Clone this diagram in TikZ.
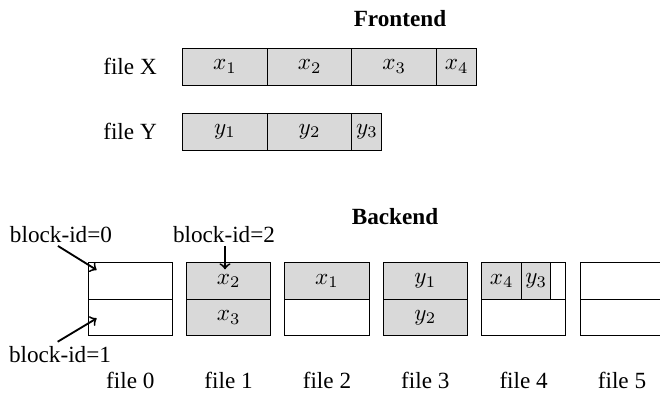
\documentclass[tikz,border=0pt]{standalone}
\usepackage{fontspec}
\setmainfont{Liberation Serif}
\usetikzlibrary{positioning}

\begin{document}
\begin{tikzpicture}[
    blk/.style={draw, fill=gray!30, minimum height=.556cm, inner sep=0pt, outer sep=0pt},
    wide/.style={blk, minimum width=1.282cm},
    cell/.style={draw, minimum width=1.273cm, minimum height=.553cm, inner sep=0pt, outer sep=0pt},
    gcell/.style={cell, fill=gray!30},
    idlbl/.style={inner sep=1pt},
    ptr/.style={->, thick}]
      \useasboundingbox (0,0) rectangle (10,5.985);
      % frontend
      \node[font=\bfseries] (front) at (6.06,5.71) {Frontend};
      \node (fx) at (1.97,4.974) {file X};
      \node[wide] (x1) at (3.409,4.974) {$x_1$};
      \node[wide, right=0pt of x1] (x2) {$x_2$};
      \node[wide, right=0pt of x2] (x3) {$x_3$};
      \node[blk, minimum width=.612cm, right=0pt of x3] (x4) {$x_4$};
      \node (fy) at (1.97,3.989) {file Y};
      \node[wide] (y1) at (3.409,3.989) {$y_1$};
      \node[wide, right=0pt of y1] (y2) {$y_2$};
      \node[blk, minimum width=.455cm, right=0pt of y2] (y3) {$y_3$};
      % backend
      \node[font=\bfseries] (back) at (5.985,2.702) {Backend};
      \node[cell] (b0t) at (1.974,1.7285) {};
      \node[cell, below=0pt of b0t] (b0b) {};
      \node[gcell] (b1t) at (3.464,1.7285) {$x_2$};
      \node[gcell, below=0pt of b1t] (b1b) {$x_3$};
      \node[gcell] (b2t) at (4.954,1.7285) {$x_1$};
      \node[cell, below=0pt of b2t] (b2b) {};
      \node[gcell] (b3t) at (6.444,1.7285) {$y_1$};
      \node[gcell, below=0pt of b3t] (b3b) {$y_2$};
      \node[cell] (b4t) at (7.934,1.7285) {};
      \node[cell, below=0pt of b4t] (b4b) {};
      \node[blk, minimum width=.606cm, minimum height=.553cm, anchor=north west] (b4x) at (b4t.north west) {$x_4$};
      \node[blk, minimum width=.44cm, minimum height=.553cm, right=0pt of b4x] (b4y) {$y_3$};
      \node[cell] (b5t) at (9.424,1.7285) {};
      \node[cell, below=0pt of b5t] (b5b) {};
      \node (f0) at (1.974,0.227) {file 0};
      \node (f1) at (3.464,0.227) {file 1};
      \node (f2) at (4.954,0.227) {file 2};
      \node (f3) at (6.444,0.227) {file 3};
      \node (f4) at (7.934,0.227) {file 4};
      \node (f5) at (9.424,0.227) {file 5};
      % block ids
      \node[idlbl] (id0) at (0.924,2.424) {block-id=0};
      \node[idlbl] (id1) at (0.909,0.606) {block-id=1};
      \node[idlbl] (id2) at (3.394,2.424) {block-id=2};
      \coordinate (p0) at (1.465,1.894);
      \coordinate (p1) at (1.465,1.162);
      \coordinate (p2) at (3.409,1.904);
      \draw[ptr] ([xshift=-1.3pt]id0.south) -- (p0);
      \draw[ptr] ([xshift=-1pt,yshift=1pt]id1.north) -- (p1);
      \draw[ptr] (id2.south -| p2) -- (p2);
\end{tikzpicture}
\end{document}
